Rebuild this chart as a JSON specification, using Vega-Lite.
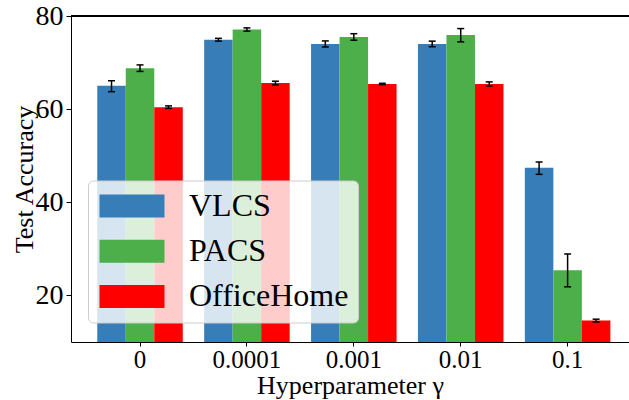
{
  "$schema": "https://vega.github.io/schema/vega-lite/v6.json",
  "autosize": {"type": "none"},
  "padding": {"left": 71, "top": 16, "right": 0, "bottom": 58},
  "width": 558,
  "height": 326,
  "data": {"values": [
    {"gamma": "0", "dataset": "VLCS", "acc": 65.0, "lo": 63.75, "hi": 66.1},
    {"gamma": "0", "dataset": "PACS", "acc": 68.8, "lo": 68.1, "hi": 69.5},
    {"gamma": "0", "dataset": "OfficeHome", "acc": 60.4, "lo": 60.15, "hi": 60.7},
    {"gamma": "0.0001", "dataset": "VLCS", "acc": 74.9, "lo": 74.6, "hi": 75.2},
    {"gamma": "0.0001", "dataset": "PACS", "acc": 77.1, "lo": 76.75, "hi": 77.45},
    {"gamma": "0.0001", "dataset": "OfficeHome", "acc": 65.6, "lo": 65.2, "hi": 66.0},
    {"gamma": "0.001", "dataset": "VLCS", "acc": 74.0, "lo": 73.35, "hi": 74.65},
    {"gamma": "0.001", "dataset": "PACS", "acc": 75.5, "lo": 74.8, "hi": 76.2},
    {"gamma": "0.001", "dataset": "OfficeHome", "acc": 65.4, "lo": 65.25, "hi": 65.55},
    {"gamma": "0.01", "dataset": "VLCS", "acc": 74.0, "lo": 73.4, "hi": 74.6},
    {"gamma": "0.01", "dataset": "PACS", "acc": 75.9, "lo": 74.45, "hi": 77.3},
    {"gamma": "0.01", "dataset": "OfficeHome", "acc": 65.4, "lo": 64.95, "hi": 65.85},
    {"gamma": "0.1", "dataset": "VLCS", "acc": 47.4, "lo": 46.0, "hi": 48.65},
    {"gamma": "0.1", "dataset": "PACS", "acc": 25.4, "lo": 21.85, "hi": 28.9},
    {"gamma": "0.1", "dataset": "OfficeHome", "acc": 14.6, "lo": 14.3, "hi": 14.9}
  ]},
  "layer": [
    {
      "encoding": {
        "x": {
          "field": "gamma", "type": "nominal",
          "sort": ["0", "0.0001", "0.001", "0.01", "0.1"],
          "scale": {"paddingInner": 0.2, "paddingOuter": 0.21, "align": 0.585},
          "axis": {
            "title": "Hyperparameter γ", "labelAngle": 0,
            "labelFontSize": 25, "titleFontSize": 26,
            "tickSize": 4, "labelPadding": 1, "titlePadding": 0,
            "domainColor": "black", "tickColor": "black", "domainWidth": 1,
            "labelColor": "black", "titleColor": "black", "titleFontWeight": "normal"
          }
        },
        "xOffset": {
          "field": "dataset", "type": "nominal",
          "sort": ["VLCS", "PACS", "OfficeHome"],
          "scale": {"paddingInner": 0, "paddingOuter": 0}
        }
      },
      "layer": [
        {
          "mark": {"type": "bar", "clip": true},
          "encoding": {
            "y": {
              "field": "acc", "type": "quantitative",
              "scale": {"domain": [10, 80], "nice": false, "zero": false},
              "axis": {
                "title": "Test Accuracy", "values": [20, 40, 60, 80], "grid": false,
                "labelFontSize": 28, "titleFontSize": 26,
                "tickSize": 5, "labelPadding": 3, "titlePadding": -2,
                "domainColor": "black", "tickColor": "black", "domainWidth": 1,
                "labelColor": "black", "titleColor": "black", "titleFontWeight": "normal"
              }
            },
            "color": {
              "field": "dataset", "type": "nominal",
              "sort": ["VLCS", "PACS", "OfficeHome"],
              "scale": {"domain": ["VLCS", "PACS", "OfficeHome"], "range": ["#377eb8", "#4daf4a", "#ff0000"]},
              "legend": {
                "title": null, "orient": "none", "legendX": 17, "legendY": 164.5,
                "fillColor": "rgba(255,255,255,0.8)", "strokeColor": "#cccccc", "cornerRadius": 5,
                "padding": 9.5, "labelFontSize": 32, "labelOffset": 41, "labelColor": "black",
                "labelFont": "Liberation Serif",
                "symbolType": "M-2.826,-1L2.826,-1L2.826,1L-2.826,1Z", "symbolSize": 529,
                "symbolOffset": 18.5,
                "symbolStrokeWidth": 0, "symbolOpacity": 1, "rowPadding": 13.2
              }
            }
          }
        },
        {
          "mark": {"type": "rule", "color": "black", "strokeWidth": 1.5},
          "encoding": {
            "y": {"field": "lo", "type": "quantitative"},
            "y2": {"field": "hi"}
          }
        },
        {
          "mark": {"type": "tick", "color": "black", "thickness": 1.5, "size": 7, "opacity": 1},
          "encoding": {"y": {"field": "lo", "type": "quantitative"}}
        },
        {
          "mark": {"type": "tick", "color": "black", "thickness": 1.5, "size": 7, "opacity": 1},
          "encoding": {"y": {"field": "hi", "type": "quantitative"}}
        }
      ]
    },
    {
      "mark": {"type": "rule", "color": "black", "strokeWidth": 1},
      "encoding": {"y": {"datum": 80}}
    }
  ],
  "config": {
    "font": "Liberation Serif",
    "axis": {"labelFont": "Liberation Serif", "titleFont": "Liberation Serif"},
    "legend": {"labelFont": "Liberation Serif"},
    "view": {"stroke": null}
  }
}
